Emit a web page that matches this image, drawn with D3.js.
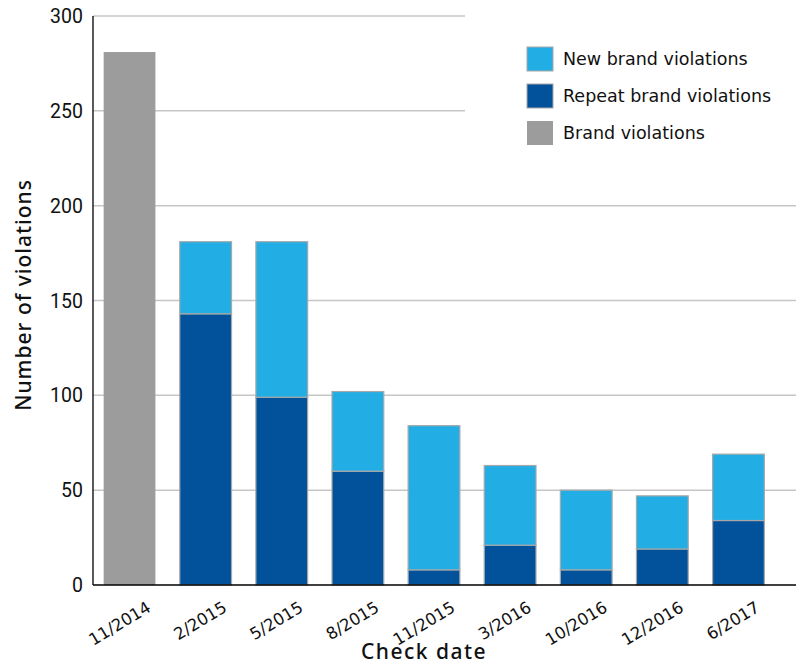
<!DOCTYPE html>
<html lang="en">
<head>
    <meta charset="utf-8">
    <script src="https://cdn.jsdelivr.net/npm/d3@7"></script>
    <style>
        body { margin: 0; background: #fff; }
        text { font-family: "DejaVu Sans", sans-serif; fill: #111; }
    </style>
</head>

<body>
<div id="svg"></div>

<script>
    // check dates and the two stacked series (first date is a single total)
    var dates = ["11/2014", "2/2015", "5/2015", "8/2015", "11/2015", "3/2016", "10/2016", "12/2016", "6/2017"];
    var brandViolations = [281, 0, 0, 0, 0, 0, 0, 0, 0];
    var repeatViolations = [0, 143, 99, 60, 8, 21, 8, 19, 34];
    var newViolations = [0, 38, 82, 42, 76, 42, 42, 28, 35];
    var yTicks = [0, 50, 100, 150, 200, 250, 300];
    var legendLabels = ["New brand violations", "Repeat brand violations", "Brand violations"];

    var colors = {brand: "#9c9c9d", repeat: "#02529b", "new": "#22ade4"};

    var margin = {top: 16, right: 0, bottom: 80, left: 93},
      width = 796 - margin.left - margin.right,
      height = 665 - margin.top - margin.bottom;

    var svg = d3.select("#svg").append("svg")
        .attr("width", 796)
        .attr("height", 665);

    var g = svg.append("g")
        .attr("transform", "translate(" + margin.left + "," + margin.top + ")");

    var x = d3.scaleBand()
        .domain(dates)
        .range([0, 682])
        .paddingInner(0.32)
        .paddingOuter(0.14);

    var y = d3.scaleLinear()
        .domain([0, 300])
        .range([569, 0]);

    // gridlines
    g.selectAll("line.grid")
        .data(yTicks.filter(function(d){ return d > 0; }))
    .enter().append("line")
        .attr("class", "grid")
        .attr("x1", 0)
        .attr("x2", width)
        .attr("y1", function(d){ return y(d); })
        .attr("y2", function(d){ return y(d); })
        .style("stroke", "#c6c6c6")
        .style("stroke-width", 1.5);

    // legend background hides the top gridlines
    g.append("rect")
        .attr("x", 372)
        .attr("y", -10)
        .attr("width", width - 372)
        .attr("height", 150)
        .style("fill", "#fff");

    var rows = dates.map(function(d, i){
        return {date: d, brand: brandViolations[i], repeat: repeatViolations[i], "new": newViolations[i]};
    });

    var stack = d3.stack().keys(["brand", "repeat", "new"]);
    var layers = stack(rows);

    g.selectAll("g.layer")
        .data(layers)
    .enter().append("g")
        .attr("class", "layer")
        .style("fill", function(d){ return colors[d.key]; })
    .selectAll("rect")
        .data(function(d){ return d.filter(function(s){ return s[1] > s[0]; }); })
    .enter().append("rect")
        .attr("x", function(d){ return x(d.data.date); })
        .attr("width", x.bandwidth())
        .attr("y", function(d){ return y(d[1]); })
        .attr("height", function(d){ return y(d[0]) - y(d[1]); })
        .style("stroke", function(d){ return d.data.brand > 0 ? "none" : "#a8a8a8"; })
        .style("stroke-width", 1.2);

    // axes lines
    g.append("line")
        .attr("x1", 0).attr("x2", 0)
        .attr("y1", 0).attr("y2", 569)
        .style("stroke", "#000").style("stroke-width", 1.3);
    g.append("line")
        .attr("x1", 0).attr("x2", width)
        .attr("y1", 569).attr("y2", 569)
        .style("stroke", "#000").style("stroke-width", 1.3);

    // y tick labels
    g.selectAll("text.ytick")
        .data(yTicks)
    .enter().append("text")
        .attr("class", "ytick")
        .attr("x", -10)
        .attr("y", function(d){ return y(d); })
        .attr("dy", "0.36em")
        .attr("text-anchor", "end")
        .style("font-family", "Roboto, sans-serif")
        .style("font-size", "19.5px")
        .text(function(d){ return d; });

    // x tick labels, rotated
    g.selectAll("text.xtick")
        .data(dates)
    .enter().append("text")
        .attr("class", "xtick")
        .attr("text-anchor", "end")
        .attr("transform", function(d){
            return "translate(" + (x(d) + x.bandwidth()/2 + 16) + "," + 584 + ") rotate(-31)";
        })
        .attr("dy", "0.75em")
        .style("font-size", "16.5px")
        .text(function(d){ return d; });

    // axis titles
    svg.append("text")
        .attr("x", 424)
        .attr("y", 659)
        .attr("text-anchor", "middle")
        .style("font-family", "'Noto Sans', sans-serif")
        .style("font-weight", 500)
        .style("font-size", "21px")
        .style("letter-spacing", "1.5px")
        .text("Check date");

    svg.append("text")
        .attr("transform", "translate(31,295) rotate(-90)")
        .attr("text-anchor", "middle")
        .style("font-family", "'Noto Sans', sans-serif")
        .style("font-weight", 500)
        .style("font-size", "21px")
        .style("letter-spacing", "1px")
        .text("Number of violations");

    // legend
    var legendKeys = ["new", "repeat", "brand"];
    var legend = svg.selectAll("g.legend")
        .data(legendLabels)
    .enter().append("g")
        .attr("class", "legend")
        .attr("transform", function(d, i){ return "translate(527," + (47 + i*37) + ")"; });

    legend.append("rect")
        .attr("width", 26)
        .attr("height", 24)
        .style("fill", function(d, i){ return colors[legendKeys[i]]; })
        .style("stroke", function(d, i){ return i < 2 ? "#a8a8a8" : "none"; });

    legend.append("text")
        .attr("x", 36)
        .attr("y", 12)
        .attr("dy", "0.36em")
        .style("font-size", "17.5px")
        .text(function(d){ return d; });

</script>
</body>
</html>
